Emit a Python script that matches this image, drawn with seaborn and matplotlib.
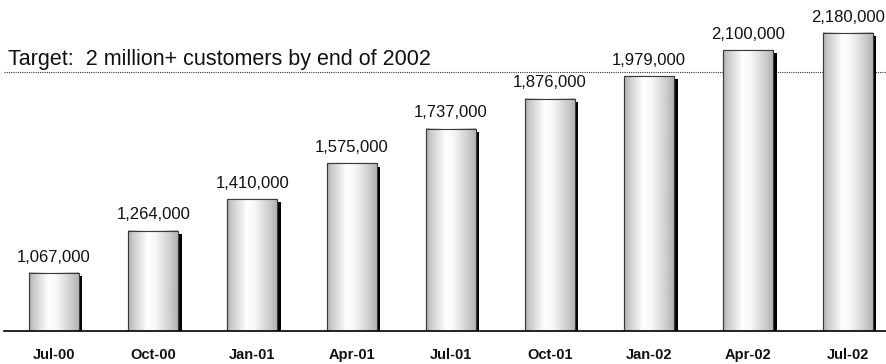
import numpy as np
import pandas as pd
import matplotlib
matplotlib.use("Agg")
import matplotlib.pyplot as plt
import matplotlib.patheffects as pe
import seaborn as sns

# Customer counts by quarter
quarters = ["Jul-00", "Oct-00", "Jan-01", "Apr-01", "Jul-01",
            "Oct-01", "Jan-02", "Apr-02", "Jul-02"]
customers = [1067000, 1264000, 1410000, 1575000, 1737000,
             1876000, 1979000, 2100000, 2180000]
target_value = 2000000
target_label = "Target:  2 million+ customers by end of 2002"

df = pd.DataFrame({"quarter": quarters, "customers": customers})

sns.set_theme(style="white")
plt.rcParams["font.family"] = ["Liberation Sans", "DejaVu Sans"]

fig = plt.figure(figsize=(8.86, 3.64), dpi=100)
ax = fig.add_axes([4 / 886, 33 / 364, 882 / 886, 331 / 364])

sns.barplot(data=df, x="quarter", y="customers", ax=ax, width=0.504,
            color="white", edgecolor="#3a3a3a", linewidth=0.8, zorder=3)

ymin, ymax = 798000, 2333000
ax.set_xlim(-0.504, 8.387)
ax.set_ylim(ymin, ymax)

# Metallic horizontal gradient inside each bar, plus a drop shadow
xs = np.linspace(0, 1, 256)
prof = np.interp(xs, [0, 0.08, 0.4, 0.55, 0.85, 1.0],
                 [0.66, 0.78, 1.0, 0.97, 0.80, 0.70])
grad = np.tile(prof, (2, 1))
for patch in ax.patches:
    x0, w = patch.get_x(), patch.get_width()
    top = patch.get_y() + patch.get_height()
    patch.set_path_effects([
        pe.SimplePatchShadow(offset=(2.4, -2.2), shadow_rgbFace="black", alpha=1.0),
        pe.Normal(),
    ])
    ax.imshow(grad, cmap="gray", vmin=0, vmax=1, aspect="auto",
              extent=(x0, x0 + w, ymin, top), zorder=3.5,
              interpolation="bilinear")
    edge = plt.Rectangle((x0, ymin), w, top - ymin, fill=False,
                         edgecolor="#3a3a3a", linewidth=0.8, zorder=4)
    ax.add_patch(edge)

ax.set_xlim(-0.504, 8.387)
ax.set_ylim(ymin, ymax)

# Value labels above bars
for i, v in enumerate(customers):
    ax.annotate(f"{v:,}", (i, v), xytext=(0, 6), textcoords="offset points",
                ha="center", va="bottom", fontsize=12, color="#111111")

# Target line and caption
ax.axhline(target_value, color="#333333", linestyle=(0, (1, 1)),
           linewidth=0.8, zorder=2)
ax.text(0.004, 0.79, target_label, transform=ax.transAxes,
        fontsize=15.5, color="#111111", ha="left", va="bottom")

# Axes styling
for side in ["top", "right", "left"]:
    ax.spines[side].set_visible(False)
ax.spines["bottom"].set_color("black")
ax.spines["bottom"].set_linewidth(1.2)
ax.spines["bottom"].set_zorder(5)
ax.set_yticks([])
ax.set_xlabel("")
ax.set_ylabel("")
ax.tick_params(axis="x", length=0, pad=12)
for lab in ax.get_xticklabels():
    lab.set_fontweight("bold")
    lab.set_fontsize(10.5)
    lab.set_color("#111111")

fig.savefig("out.png", dpi=100, facecolor="white")
